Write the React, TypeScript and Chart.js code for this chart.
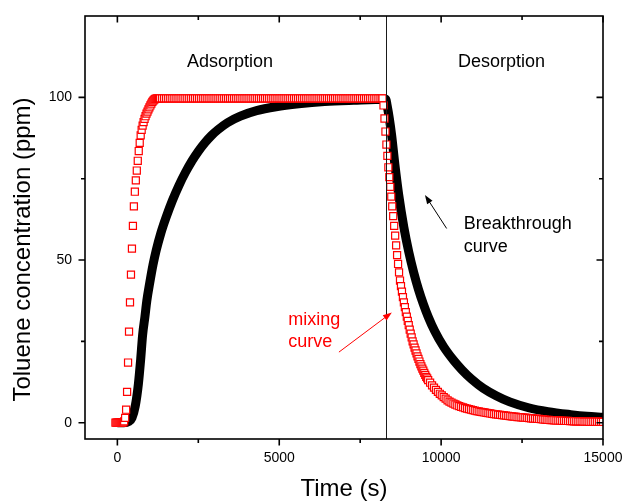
import React, { useEffect, useRef } from "react";
import { Chart, registerables } from "chart.js";

Chart.register(...registerables);

// ---------- data (time in s, concentration in ppm) ----------
const xTicks = [0, 5000, 10000, 15000];
const xMinorTicks = [2500, 7500, 12500];
const yTicks = [0, 50, 100];
const yMinorTicks = [25, 75];
const switchTime = 8290;

// breakthrough curve (black)
const breakthrough: [number, number][] = [
  [0, 0], [200, 0], [350, 0.4], [450, 1.5], [550, 5], [650, 12], [720, 19.5], [780, 27],
  [850, 32.5], [910, 37.5], [1000, 43], [1100, 48.5], [1200, 53], [1350, 58.5], [1500, 63],
  [1700, 68.3], [1900, 72.9], [2100, 76.9], [2300, 80.4], [2500, 83.4], [2700, 86],
  [2900, 88.2], [3100, 90], [3400, 92.2], [3800, 94.2], [4300, 95.9], [4900, 97.1],
  [5600, 98], [6400, 98.7], [7300, 99.1], [8290, 99.4],
  [8330, 97.6], [8400, 93.5], [8470, 88.5], [8570, 79.5], [8690, 70], [8850, 60],
  [9000, 52.5], [9150, 46.3], [9300, 41], [9450, 36.5], [9600, 32.6], [9800, 28.2],
  [10080, 23.3], [10400, 19], [10650, 16.2], [10940, 13.4], [11300, 10.6], [11700, 8.3],
  [12120, 6.4], [12700, 4.6], [13300, 3.4], [14000, 2.5], [14500, 2], [15000, 1.7],
];

// mixing curve (red squares)
const mixingRise: [number, number][] = [
  [-60, 0], [-30, 0], [0, 0], [30, 0], [60, 0], [90, 0], [120, 0], [150, 0], [180, 0.1],
  [210, 0.4], [240, 1.5], [270, 4], [300, 9.5], [330, 18.5], [360, 28], [390, 37],
  [420, 45.5], [450, 53.5], [480, 60.5], [510, 66.5], [540, 71], [570, 74.5], [600, 77.5],
  [630, 80.5], [660, 83.5], [690, 86], [720, 88.3], [750, 90], [780, 91.3], [810, 92.4],
  [840, 93.4], [870, 94.2], [900, 95], [930, 95.6], [960, 96.3], [990, 96.9], [1020, 97.5],
  [1050, 98.1], [1080, 98.6], [1110, 99], [1140, 99.3], [1170, 99.5], [1200, 99.6],
  [1230, 99.7], [1260, 99.7], [1290, 99.7], [1320, 99.7],
];

const mixingPlateau: [number, number][] = [
  [1380, 99.7], [1440, 99.7], [1500, 99.7], [1560, 99.7], [1620, 99.7], [1680, 99.7],
  [1740, 99.7], [1800, 99.7], [1860, 99.7], [1920, 99.7], [1980, 99.7], [2040, 99.7],
  [2100, 99.7], [2160, 99.7], [2220, 99.7], [2280, 99.7], [2340, 99.7], [2400, 99.7],
  [2460, 99.7], [2520, 99.7], [2580, 99.7], [2640, 99.7], [2700, 99.7], [2760, 99.7],
  [2820, 99.7], [2880, 99.7], [2940, 99.7], [3000, 99.7], [3060, 99.7], [3120, 99.7],
  [3180, 99.7], [3240, 99.7], [3300, 99.7], [3360, 99.7], [3420, 99.7], [3480, 99.7],
  [3540, 99.7], [3600, 99.7], [3660, 99.7], [3720, 99.7], [3780, 99.7], [3840, 99.7],
  [3900, 99.7], [3960, 99.7], [4020, 99.7], [4080, 99.7], [4140, 99.7], [4200, 99.7],
  [4260, 99.7], [4320, 99.7], [4380, 99.7], [4440, 99.7], [4500, 99.7], [4560, 99.7],
  [4620, 99.7], [4680, 99.7], [4740, 99.7], [4800, 99.7], [4860, 99.7], [4920, 99.7],
  [4980, 99.7], [5040, 99.7], [5100, 99.7], [5160, 99.7], [5220, 99.7], [5280, 99.7],
  [5340, 99.7], [5400, 99.7], [5460, 99.7], [5520, 99.7], [5580, 99.7], [5640, 99.7],
  [5700, 99.7], [5760, 99.7], [5820, 99.7], [5880, 99.7], [5940, 99.7], [6000, 99.7],
  [6060, 99.7], [6120, 99.7], [6180, 99.7], [6240, 99.7], [6300, 99.7], [6360, 99.7],
  [6420, 99.7], [6480, 99.7], [6540, 99.7], [6600, 99.7], [6660, 99.7], [6720, 99.7],
  [6780, 99.7], [6840, 99.7], [6900, 99.7], [6960, 99.7], [7020, 99.7], [7080, 99.7],
  [7140, 99.7], [7200, 99.7], [7260, 99.7], [7320, 99.7], [7380, 99.7], [7440, 99.7],
  [7500, 99.7], [7560, 99.7], [7620, 99.7], [7680, 99.7], [7740, 99.7], [7800, 99.7],
  [7860, 99.7], [7920, 99.7], [7980, 99.7], [8040, 99.7], [8100, 99.7], [8160, 99.7],
];

const mixingFall: [number, number][] = [
  [8190, 99.7], [8220, 97.5], [8250, 93.5], [8280, 89.5], [8310, 85.5], [8340, 82],
  [8370, 78.5], [8400, 75.5], [8430, 72.5], [8460, 69.5], [8490, 66.5], [8520, 63.5],
  [8550, 60.5], [8580, 57.5], [8610, 54.5], [8640, 51.5], [8670, 48.8], [8700, 46.2],
  [8730, 43.7], [8760, 42], [8790, 40.3], [8820, 38.6], [8850, 37], [8880, 35.5],
  [8910, 34], [8940, 32.6], [8970, 31.3], [9000, 30], [9030, 28.6], [9060, 27.4],
  [9090, 26.2], [9120, 25], [9150, 24.1], [9180, 23.1], [9210, 22.2], [9240, 21.3],
  [9270, 20.4], [9300, 19.6], [9330, 18.8], [9360, 18], [9390, 17.3], [9420, 16.6],
  [9450, 16], [9480, 15.3], [9510, 14.7], [9540, 14.1], [9570, 13.6], [9600, 13.1],
];

const mixingTail: [number, number][] = [
  [9660, 12.3], [9720, 11.5], [9780, 10.8], [9840, 10.1], [9900, 9.5], [9960, 8.9],
  [10020, 8.4], [10080, 7.9], [10140, 7.4], [10200, 6.9], [10260, 6.5], [10320, 6.2],
  [10380, 5.9], [10440, 5.6], [10500, 5.3], [10560, 5.1], [10620, 4.9], [10680, 4.7],
  [10740, 4.5], [10800, 4.35], [10860, 4.2], [10920, 4.05], [10980, 3.9], [11040, 3.75],
  [11100, 3.6], [11160, 3.5], [11220, 3.35], [11280, 3.25], [11340, 3.15], [11400, 3.05],
  [11460, 2.95], [11520, 2.85], [11580, 2.75], [11640, 2.65], [11700, 2.6], [11760, 2.5],
  [11820, 2.4], [11880, 2.35], [11940, 2.25], [12000, 2.2], [12060, 2.1], [12120, 2.05],
  [12180, 1.95], [12240, 1.9], [12300, 1.85], [12360, 1.75], [12420, 1.7], [12480, 1.65],
  [12540, 1.6], [12600, 1.55], [12660, 1.5], [12720, 1.4], [12780, 1.35], [12840, 1.3],
  [12900, 1.25], [12960, 1.2], [13020, 1.15], [13080, 1.1], [13140, 1.0], [13200, 0.95],
  [13260, 0.9], [13320, 0.85], [13380, 0.8], [13440, 0.8], [13500, 0.75], [13560, 0.7],
  [13620, 0.7], [13680, 0.65], [13740, 0.6], [13800, 0.6], [13860, 0.55], [13920, 0.55],
  [13980, 0.5], [14040, 0.5], [14100, 0.45], [14160, 0.45], [14220, 0.4], [14280, 0.4],
  [14340, 0.4], [14400, 0.35], [14460, 0.35], [14520, 0.35], [14580, 0.3], [14640, 0.3],
  [14700, 0.3], [14760, 0.3], [14820, 0.3], [14880, 0.3], [14940, 0.25], [15000, 0.25],
];

// text annotations (anchored in data coordinates)
const phaseLabels = [
  { text: "Adsorption", x: 2150, y: 109.4 },
  { text: "Desorption", x: 10520, y: 109.2 },
];
const breakthroughLabel = { lines: ["Breakthrough", "curve"], x: 10700, y: 59.4 };
const mixingLabel = { lines: ["mixing", "curve"], x: 5280, y: 30 };
const breakthroughArrow = { from: [10170, 59.7], to: [9500, 70] };
const mixingArrow = { from: [6843, 21.7], to: [8478, 33.9] };

const FONT = '"Liberation Sans", Arial, Helvetica, sans-serif';

function drawArrow(ctx: CanvasRenderingContext2D, x1: number, y1: number, x2: number, y2: number, color: string) {
  const ang = Math.atan2(y2 - y1, x2 - x1);
  const L = 9;
  const W = 3.2;
  const c = Math.cos(ang);
  const s = Math.sin(ang);
  ctx.strokeStyle = color;
  ctx.fillStyle = color;
  ctx.lineWidth = 1;
  ctx.beginPath();
  ctx.moveTo(x1, y1);
  ctx.lineTo(x2 - L * 0.7 * c, y2 - L * 0.7 * s);
  ctx.stroke();
  ctx.beginPath();
  ctx.moveTo(x2, y2);
  ctx.lineTo(x2 - L * c + W * s, y2 - L * s - W * c);
  ctx.lineTo(x2 - L * c - W * s, y2 - L * s + W * c);
  ctx.closePath();
  ctx.fill();
}

const framePlugin = {
  id: "frameAndNotes",
  afterDatasetsDraw(chart: any) {
    const { ctx, chartArea: a, scales } = chart;
    const xs = scales.x;
    const ys = scales.y;
    const px = (v: number) => xs.getPixelForValue(v);
    const py = (v: number) => ys.getPixelForValue(v);
    ctx.save();

    // switch line
    const vx = Math.round(px(switchTime)) + 0.5;
    ctx.strokeStyle = "#1a1a1a";
    ctx.lineWidth = 1;
    ctx.beginPath();
    ctx.moveTo(vx, a.top);
    ctx.lineTo(vx, a.bottom);
    ctx.stroke();

    // frame
    ctx.strokeStyle = "#000";
    ctx.lineWidth = 1.6;
    ctx.strokeRect(a.left, a.top, a.right - a.left, a.bottom - a.top);

    // ticks
    const major = 6.5;
    const minor = 4;
    ctx.lineWidth = 1.6;
    const xt = (v: number, len: number) => {
      const p = px(v);
      ctx.beginPath();
      ctx.moveTo(p, a.bottom);
      ctx.lineTo(p, a.bottom + len);
      ctx.moveTo(p, a.top);
      ctx.lineTo(p, a.top + len);
      ctx.stroke();
    };
    const yt = (v: number, len: number) => {
      const p = py(v);
      ctx.beginPath();
      ctx.moveTo(a.left, p);
      ctx.lineTo(a.left - len, p);
      ctx.moveTo(a.right, p);
      ctx.lineTo(a.right - len, p);
      ctx.stroke();
    };
    xTicks.forEach((v) => xt(v, major));
    xMinorTicks.forEach((v) => xt(v, minor));
    yTicks.forEach((v) => yt(v, major));
    yMinorTicks.forEach((v) => yt(v, minor));

    // axis titles
    ctx.fillStyle = "#000";
    ctx.font = `24px ${FONT}`;
    ctx.textAlign = "center";
    ctx.textBaseline = "middle";
    ctx.fillText("Time (s)", (a.left + a.right) / 2, a.bottom + 50);
    ctx.save();
    ctx.translate(a.left - 62, (a.top + a.bottom) / 2 + 22);
    ctx.rotate(-Math.PI / 2);
    ctx.fillText("Toluene concentration (ppm)", 0, 0);
    ctx.restore();

    // annotations
    ctx.font = `18px ${FONT}`;
    ctx.textAlign = "left";
    ctx.textBaseline = "alphabetic";
    ctx.fillStyle = "#000";
    phaseLabels.forEach((l) => ctx.fillText(l.text, px(l.x), py(l.y)));
    breakthroughLabel.lines.forEach((t, i) =>
      ctx.fillText(t, px(breakthroughLabel.x), py(breakthroughLabel.y) + i * 22.5)
    );
    ctx.fillStyle = "#ff0000";
    mixingLabel.lines.forEach((t, i) =>
      ctx.fillText(t, px(mixingLabel.x), py(mixingLabel.y) + i * 22)
    );

    drawArrow(
      ctx,
      px(breakthroughArrow.from[0]), py(breakthroughArrow.from[1]),
      px(breakthroughArrow.to[0]), py(breakthroughArrow.to[1]),
      "#000"
    );
    drawArrow(
      ctx,
      px(mixingArrow.from[0]), py(mixingArrow.from[1]),
      px(mixingArrow.to[0]), py(mixingArrow.to[1]),
      "#ff0000"
    );
    ctx.restore();
  },
};

export default function App() {
  const canvasRef = useRef<HTMLCanvasElement | null>(null);

  useEffect(() => {
    if (!canvasRef.current) return;
    const toPts = (arr: [number, number][]) => arr.map(([x, y]) => ({ x, y }));
    const mixing = [...mixingRise, ...mixingPlateau, ...mixingFall, ...mixingTail];

    const chart = new Chart(canvasRef.current, {
      type: "scatter",
      data: {
        datasets: [
          {
            label: "mixing curve",
            data: toPts(mixing),
            showLine: false,
            pointStyle: "rect",
            pointRadius: 5,
            pointBorderWidth: 1.2,
            pointBorderColor: "#ff0000",
            pointBackgroundColor: "#ffffff",
            order: 0,
            clip: 0,
          } as any,
          {
            label: "Breakthrough curve",
            data: toPts(breakthrough),
            showLine: true,
            borderColor: "#000000",
            borderWidth: 9,
            pointRadius: 0,
            cubicInterpolationMode: "monotone",
            borderJoinStyle: "round",
            order: 1,
            clip: 0,
          } as any,
        ],
      },
      options: {
        animation: false,
        responsive: false,
        events: [],
        layout: { padding: { left: 0, right: 21, top: 16, bottom: 0 } },
        plugins: { legend: { display: false }, tooltip: { enabled: false } },
        scales: {
          x: {
            type: "linear",
            min: -1000,
            max: 15000,
            grid: { display: false, drawTicks: false },
            border: { display: false },
            ticks: {
              autoSkip: false,
              maxRotation: 0,
              padding: 11,
              color: "#000",
              font: { family: FONT, size: 14 },
              callback: (v: any) => String(v),
            },
            afterBuildTicks: (s: any) => {
              s.ticks = xTicks.map((v) => ({ value: v }));
            },
            afterFit: (s: any) => {
              s.height = 64;
              s.paddingLeft = 0;
              s.paddingRight = 0;
            },
          },
          y: {
            type: "linear",
            min: -5,
            max: 125,
            grid: { display: false, drawTicks: false },
            border: { display: false },
            ticks: {
              autoSkip: false,
              padding: 13,
              color: "#000",
              font: { family: FONT, size: 14 },
              callback: (v: any) => String(v),
            },
            afterBuildTicks: (s: any) => {
              s.ticks = yTicks.map((v) => ({ value: v }));
            },
            afterFit: (s: any) => {
              s.width = 85;
              s.paddingTop = 0;
              s.paddingBottom = 0;
            },
          },
        },
      },
      plugins: [framePlugin],
    });
    return () => chart.destroy();
  }, []);

  return (
    <div style={{ position: "absolute", left: 0, top: 0, width: 624, height: 503, background: "#fff" }}>
      <canvas ref={canvasRef} width={624} height={503} style={{ display: "block" }} />
    </div>
  );
}
